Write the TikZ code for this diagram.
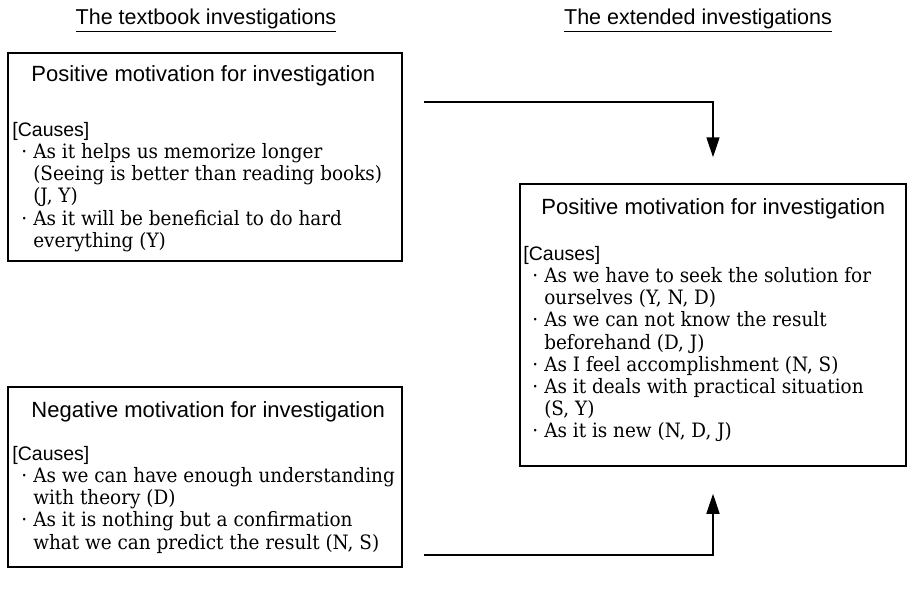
\documentclass[tikz,border=0pt]{standalone}
\usepackage{fontspec}
\setmainfont{DejaVu Serif}[FakeStretch=0.93]
\setsansfont{Liberation Sans}
\usetikzlibrary{arrows.meta}

\tikzstyle{box}=[draw, line width=1.5pt, inner sep=0pt]
\tikzstyle{coltitle}=[font=\sffamily\fontsize{21.5}{24}\selectfont, anchor=base, inner sep=0pt]
\tikzstyle{heading}=[font=\sffamily\fontsize{22}{24}\selectfont, anchor=base west, inner sep=0pt]
\tikzstyle{causes}=[font=\fontsize{19.8}{22.2}\selectfont, anchor=base west, inner sep=0pt]
\tikzstyle{flow}=[line width=1.6pt, -{Triangle[length=20pt, width=13pt]}]

\newcommand{\causehead}{\multicolumn{2}{@{}l@{}}{\sffamily\fontsize{19.5}{22.2}\selectfont[Causes]}}

\begin{document}
\begin{tikzpicture}[x=1pt, y=-1pt]
	% Background, frame
	\useasboundingbox (0,0) rectangle (909,599);

	% Column titles
	\node[coltitle] (ttext) at (206,25) {The textbook investigations};
	\node[coltitle] (text) at (698,25) {The extended investigations};
	\draw[line width=1pt] ([yshift=-7pt]ttext.base west) -- ([yshift=-7pt]ttext.base east);
	\draw[line width=1pt] ([yshift=-7pt]text.base west) -- ([yshift=-7pt]text.base east);

	% Boxes
	\node[box, minimum width=394pt, minimum height=208pt] (pos1) at (205,157) {};
	\node[box, minimum width=394pt, minimum height=180pt] (neg1) at (205,477) {};
	\node[box, minimum width=386pt, minimum height=282pt] (pos2) at (713,325) {};

	% Texts in the boxes
	\node[heading] (pos1head) at ([shift={(24pt,-29pt)}]pos1.north west) {Positive motivation for investigation};
	\node[causes] (pos1list) at ([shift={(5pt,-84pt)}]pos1.north west) {%
		\begin{tabular}[t]{@{\hspace{9pt}}l@{\hspace{6pt}}l@{}}
			\causehead\\
			\textperiodcentered & As it helps us memorize longer\\
			& (Seeing is better than reading books)\\
			& (J, Y)\\
			\textperiodcentered & As it will be beneficial to do hard\\
			& everything (Y)
		\end{tabular}};

	\node[heading] (neg1head) at ([shift={(24pt,-31pt)}]neg1.north west) {Negative motivation for investigation};
	\node[causes] (neg1list) at ([shift={(5pt,-74pt)}]neg1.north west) {%
		\begin{tabular}[t]{@{\hspace{9pt}}l@{\hspace{6pt}}l@{}}
			\causehead\\
			\textperiodcentered & As we can have enough understanding\\
			& with theory (D)\\
			\textperiodcentered & As it is nothing but a confirmation\\
			& what we can predict the result (N, S)
		\end{tabular}};

	\node[heading] (pos2head) at ([shift={(22pt,-31pt)}]pos2.north west) {Positive motivation for investigation};
	\node[causes] (pos2list) at ([shift={(4pt,-77pt)}]pos2.north west) {%
		\begin{tabular}[t]{@{\hspace{9pt}}l@{\hspace{6pt}}l@{}}
			\causehead\\
			\textperiodcentered & As we have to seek the solution for\\
			& ourselves (Y, N, D)\\
			\textperiodcentered & As we can not know the result\\
			& beforehand (D, J)\\
			\textperiodcentered & As I feel accomplishment (N, S)\\
			\textperiodcentered & As it deals with practical situation\\
			& (S, Y)\\
			\textperiodcentered & As it is new (N, D, J)
		\end{tabular}};

	% Arrows
	\draw[flow] ([shift={(21pt,-50pt)}]pos1.north east) -| ([yshift=26pt]pos2.north);
	\draw[flow] ([shift={(21pt,13pt)}]neg1.south east) -| ([yshift=-27pt]pos2.south);
\end{tikzpicture}
\end{document}
